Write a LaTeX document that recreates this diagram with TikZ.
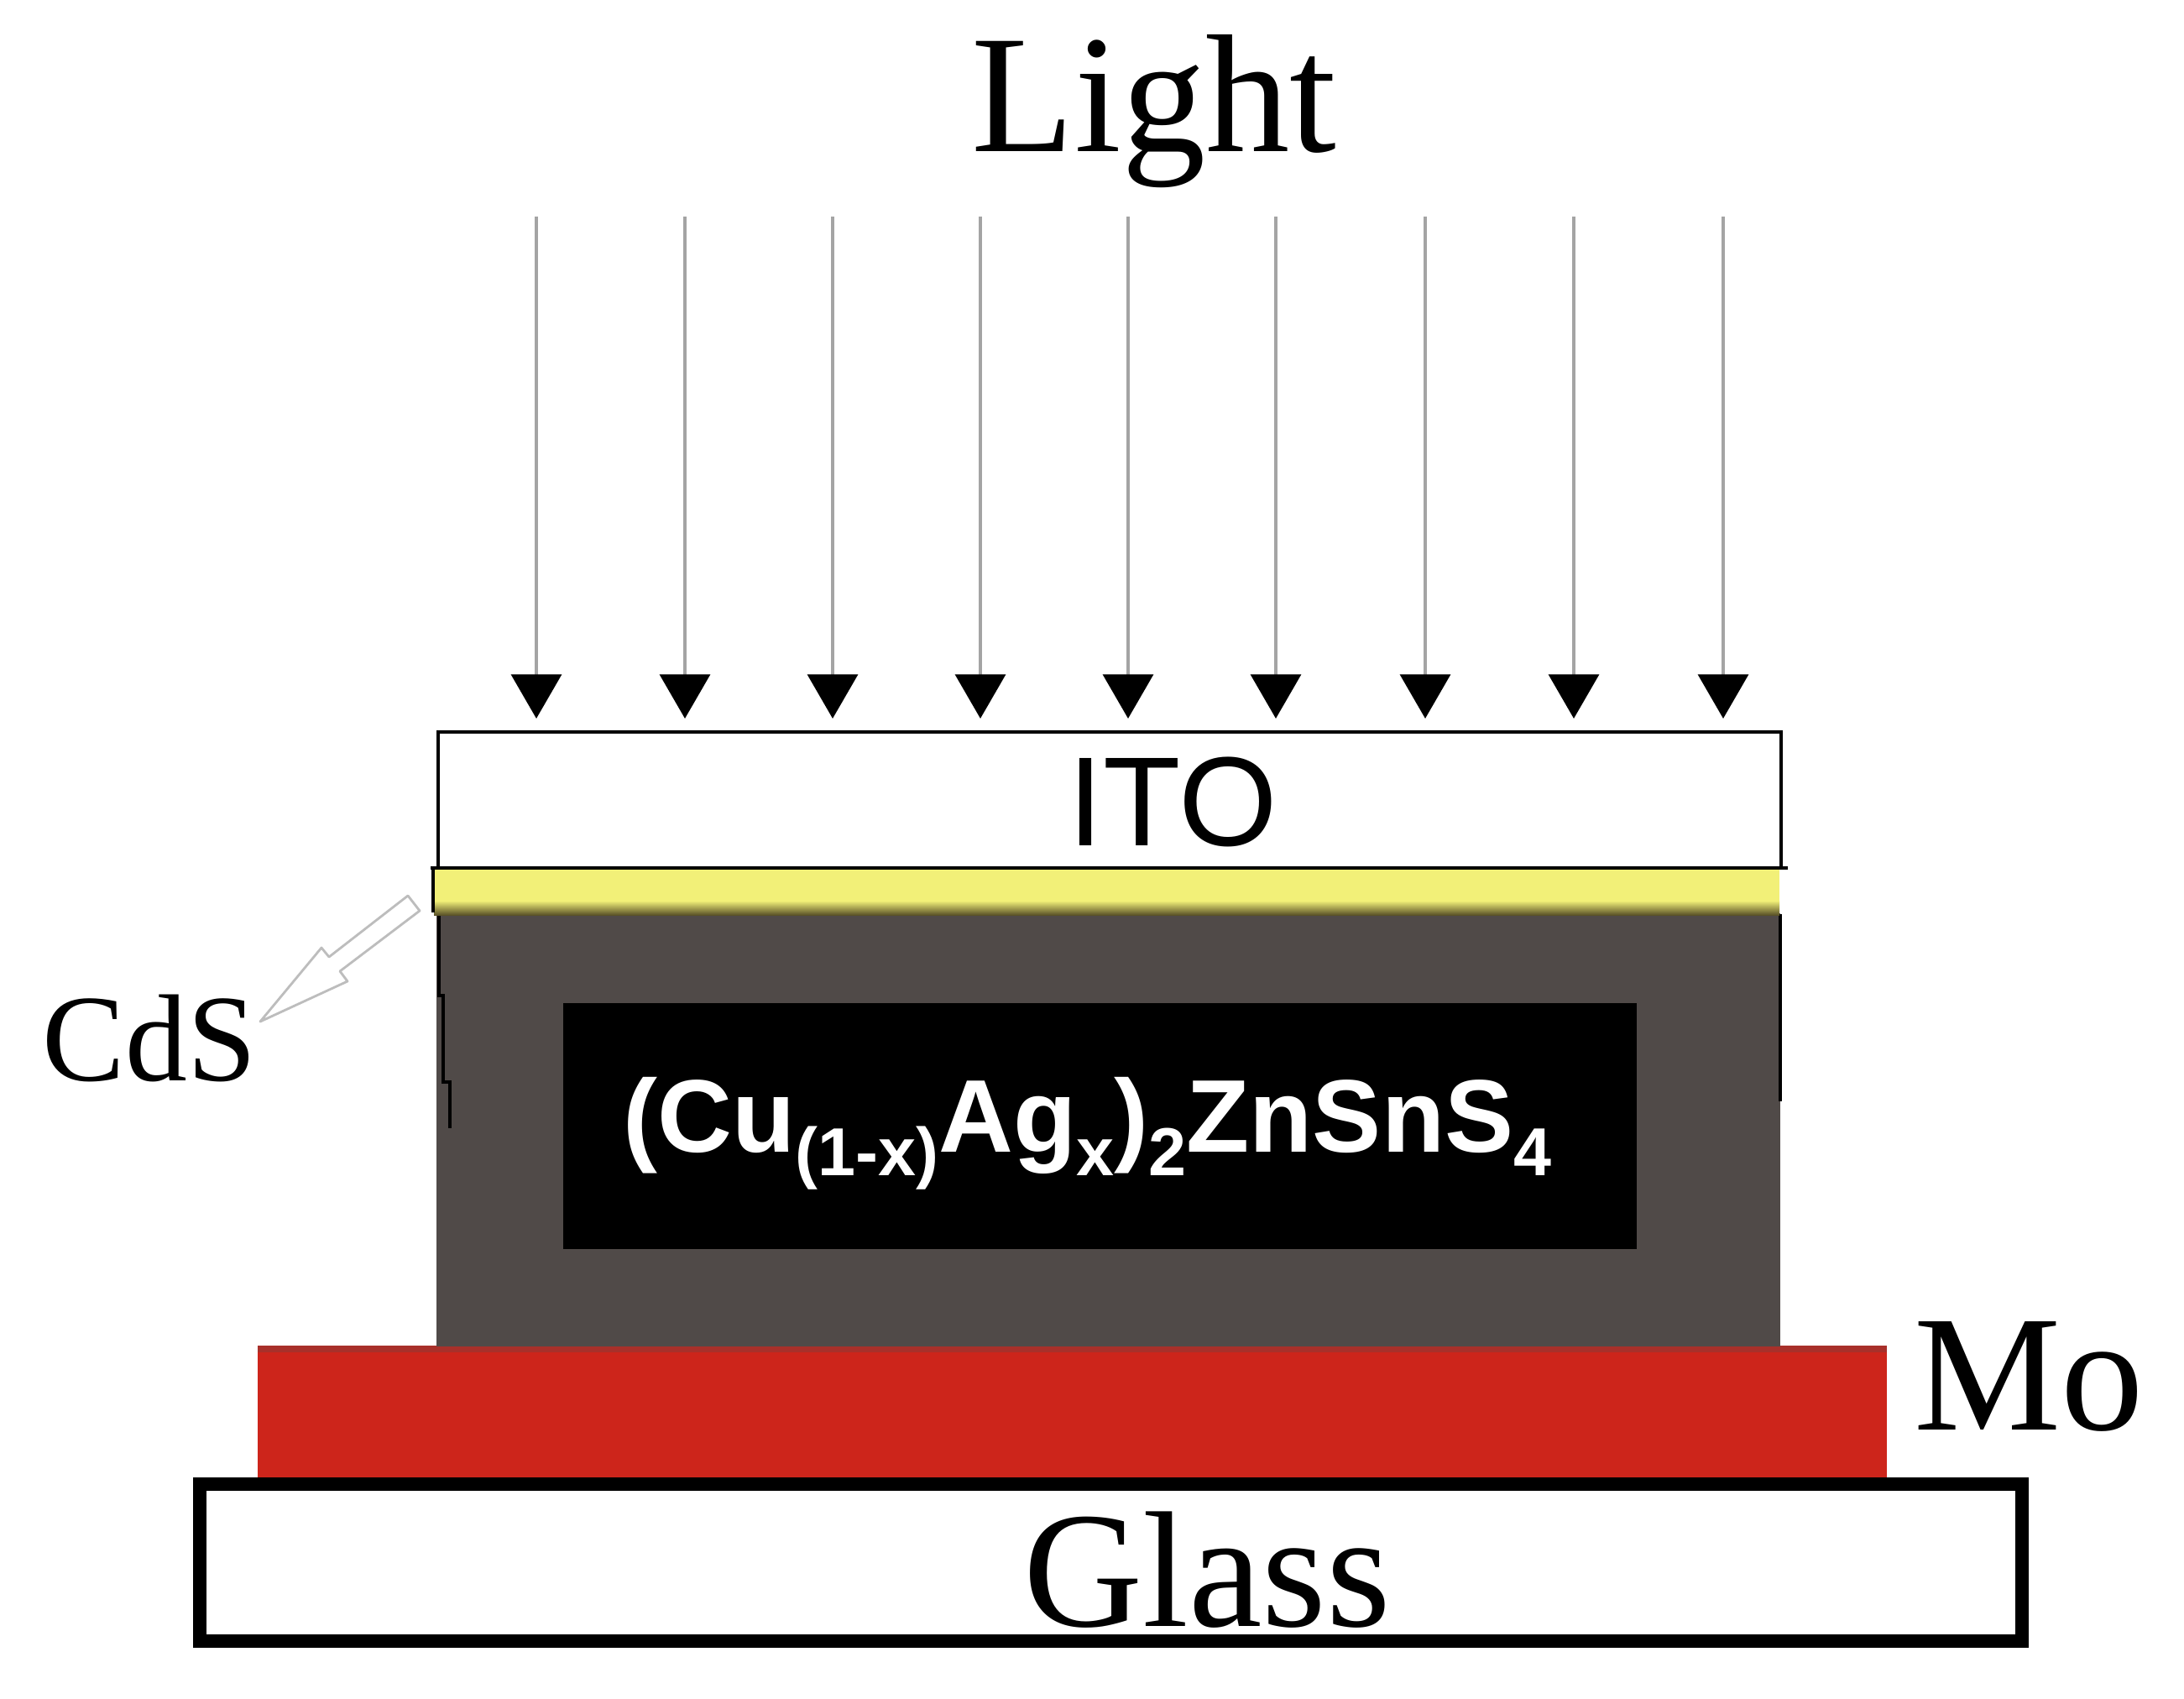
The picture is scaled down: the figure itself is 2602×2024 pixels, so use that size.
\documentclass[tikz,border=0pt]{standalone}
\usepackage{fontspec}
\setmainfont{Liberation Serif}
\newfontfamily\arialf{Liberation Sans}
\usetikzlibrary{arrows.meta}
\definecolor{absGray}{HTML}{504A48}
\definecolor{moRed}{HTML}{CD251B}
\definecolor{moRedTop}{HTML}{A8302A}
\definecolor{cdsYel}{HTML}{F2F078}
\definecolor{cdsDark}{HTML}{5A5228}
\definecolor{rayGray}{HTML}{A4A4A4}
\definecolor{callGray}{HTML}{BDBDBD}
\begin{document}
\begin{tikzpicture}[x=0.01cm,y=-0.01cm,
  ray/.style={draw=rayGray,line width=1.3pt,-{Triangle[width=17pt,length=15pt,color=black]}},
  serlbl/.style={inner sep=0pt,font=\fontsize{#1}{#1}\selectfont},
  edgeline/.style={draw=black,line width=1.4pt},
  glassbox/.style={draw=black,line width=4.3pt,fill=white}]
\useasboundingbox (0,0) rectangle (2602,2024);
\fill[white] (0,0) rectangle (2602,2024);

% Light label
\node[serlbl=57,anchor=base] (light) at (1375,180) {Light};

% light rays
\foreach \i/\xx in {1/639,2/816,3/992,4/1168,5/1344,6/1520,7/1698,8/1875,9/2053}{
  \coordinate (s\i) at (\xx,258);
  \coordinate (e\i) at (\xx,856);
  \draw[ray] (s\i) -- (e\i);
}

% Mo layer (red)
\fill[moRed] (307,1603) rectangle (2248,1762);
\fill[moRedTop] (307,1603) rectangle (2248,1611);

% absorber (gray)
\fill[absGray] (520,1088) rectangle (2121,1604);
\draw[black,line width=1.2pt] (523,1087) -- (523,1186) -- (528,1186) -- (528,1289) -- (536,1289) -- (536,1344);
\draw[black,line width=1.2pt] (2121,1089) -- (2121,1312);

% CdS layer (yellow)
\fill[cdsYel] (517,1036) rectangle (2120,1074);
\shade[top color=cdsYel,bottom color=cdsDark] (517,1073) rectangle (2120,1090);
\draw[black,line width=1.3pt] (516,1035) -- (516,1087);

% ITO layer
\draw[edgeline,fill=white] (522,872) rectangle (2122,1034);
\draw[edgeline] (513,1034) -- (2130,1034);
\node[inner sep=0pt,anchor=base,font=\arialf\fontsize{43}{43}\selectfont] (ito) at (1397,1007) {ITO};

% black absorber box with formula
\fill[black] (671,1195) rectangle (1950,1488);
\newcommand{\subtxt}[1]{\raisebox{-8pt}{\fontsize{23}{23}\selectfont #1}}
\node[inner sep=0pt,anchor=base west,text=white,font=\arialf\bfseries\fontsize{35}{35}\selectfont] (czts) at (742,1372)
  {(Cu\subtxt{(1-x)}Ag\subtxt{x})\subtxt{2}ZnSnS\subtxt{4}};

% Glass
\draw[glassbox] (238,1768) rectangle (2409,1955);
\node[serlbl=56,anchor=base] (glass) at (1438,1937) {Glass};

% Mo label
\node[serlbl=56,anchor=base west] (mo) at (2280,1703) {Mo};

% CdS label and callout arrow
\node[serlbl=42,anchor=base west] (cds) at (50,1287) {CdS};
\coordinate (calltip) at (310,1217);
\draw[callGray,line width=0.8pt,fill=white,line join=round]
  (calltip) -- (383,1129) -- (392,1140) -- (486,1067) -- (500,1085) -- (405,1157) -- (414,1169) -- cycle;
\end{tikzpicture}
\end{document}
